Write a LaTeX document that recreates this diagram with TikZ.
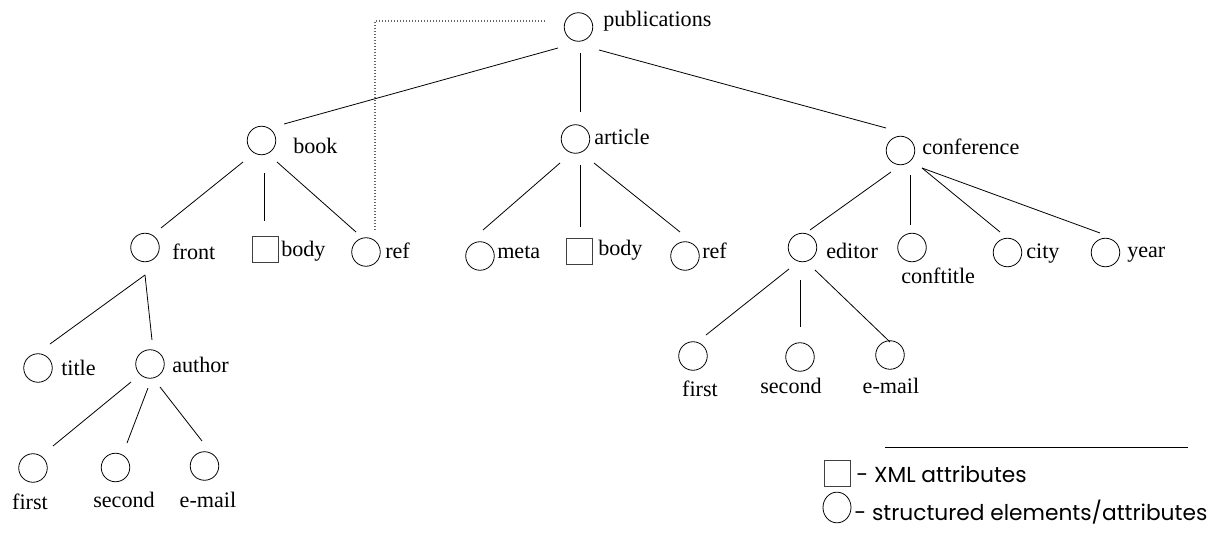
\documentclass[tikz,border=0pt]{standalone}
\usepackage{fontspec}
\setmainfont{Liberation Serif}
\newfontfamily\legendfont{Poppins}
\usetikzlibrary{calc,shapes.geometric}

\tikzset{
  elem/.style={draw, circle, minimum size=21.4pt, inner sep=0pt, line width=0.6pt},
  attr/.style={draw=black!75, rectangle, minimum size=19.5pt, inner sep=0pt, line width=0.6pt},
  lbl/.style={anchor=base west, inner sep=0pt, font=\fontsize{16.6}{20}\selectfont},
  lblc/.style={anchor=base, inner sep=0pt, font=\fontsize{16.6}{20}\selectfont},
  leg/.style={anchor=base west, inner sep=0pt, font=\legendfont\fontsize{16.3}{19}\selectfont},
  legelem/.style={draw, ellipse, minimum width=21pt, minimum height=23pt, inner sep=0pt, line width=0.6pt},
  edge/.style={line width=0.6pt},
  refline/.style={draw=black!60, line width=0.8pt, dash pattern=on 0.75pt off 1.5pt}
}

\begin{document}
\begin{tikzpicture}[x=0.75pt, y=-0.75pt]
\useasboundingbox (0,0) rectangle (1229,535);

% --- element and attribute nodes ---
\node[elem] (pub) at (578.5,27) {};
\node[elem] (book) at (261.5,140.5) {};
\node[elem] (article) at (575.5,139) {};
\node[elem] (conf) at (900.5,150.5) {};

\node[elem] (front) at (145,247.5) {};
\node[attr] (bbody) at (265,249.5) {};
\node[elem] (bref) at (366,252) {};

\node[elem] (meta) at (480,256) {};
\node[attr] (abody) at (579,251.5) {};
\node[elem] (aref) at (685,256) {};

\node[elem] (editor) at (802.5,247.5) {};
\node[elem] (conftitle) at (912,247.5) {};
\node[elem] (city) at (1007.5,252.5) {};
\node[elem] (year) at (1105.5,252.5) {};

\node[elem] (title) at (38,368) {};
\node[elem] (author) at (150,364) {};

\node[elem] (afirst) at (33,468) {};
\node[elem] (asecond) at (115.5,467.5) {};
\node[elem] (aemail) at (204.5,466) {};

\node[elem] (efirst) at (693,356) {};
\node[elem] (esecond) at (800,357) {};
\node[elem] (eemail) at (890,355) {};

% --- labels ---
\node[lbl] (tpub) at (603,27) {publications};
\node[lbl] (tbook) at (293,153) {book};
\node[lbl] (tarticle) at (594,145) {article};
\node[lbl] (tconf) at (922,155) {conference};
\node[lbl] (tfront) at (172,259) {front};
\node[lbl] (tbbody) at (281,256) {body};
\node[lbl] (tbref) at (385,258) {ref};
\node[lbl] (tmeta) at (497,258) {meta};
\node[lbl] (tabody) at (598,255) {body};
\node[lbl] (taref) at (702,258) {ref};
\node[lbl] (teditor) at (826,258) {editor};
\node[lbl] (tconftitle) at (901,283) {conftitle};
\node[lbl] (tcity) at (1026,258) {city};
\node[lbl] (tyear) at (1127,257) {year};
\node[lbl] (ttitle) at (61,375) {title};
\node[lbl] (tauthor) at (172,372) {author};
\node[lblc] (tafirst) at (30,509) {first};
\node[lblc] (tasecond) at (124,507) {second};
\node[lblc] (taemail) at (208,507) {e-mail};
\node[lblc] (tefirst) at (700,396) {first};
\node[lblc] (tesecond) at (791,393) {second};
\node[lblc] (teemail) at (891,393) {e-mail};

% --- tree edges ---
\draw[edge] ($(pub)+(-20.5,21)$) -- ($(book)+(22.5,-16.5)$);
\draw[edge] ($(pub)+(1.5,26)$) -- ($(article)+(4.5,-27)$);
\draw[edge] ($(pub)+(20.5,23)$) -- ($(conf)+(-14.5,-22.5)$);

\draw[edge] ($(book)+(-18.5,21.5)$) -- ($(front)+(16,-19.5)$);
\draw[edge] ($(book)+(2.5,32.5)$) -- ($(bbody)+(-1,-28.5)$);
\draw[edge] ($(book)+(15.5,21.5)$) -- ($(bref)+(-10,-20)$);

\draw[edge] ($(article)+(-15.5,24)$) -- ($(meta)+(3,-26)$);
\draw[edge] ($(article)+(4.5,26)$) -- ($(abody)+(1,-24.5)$);
\draw[edge] ($(article)+(18.5,24)$) -- ($(aref)+(-5,-24)$);

\draw[edge] ($(conf)+(-9.5,21.5)$) -- ($(editor)+(7.5,-17.5)$);
\draw[edge] ($(conf)+(9.5,24.5)$) -- ($(conftitle)+(-2,-22.5)$);
\draw[edge] ($(conf)+(21.5,17.5)$) -- ($(city)+(-7.5,-20.5)$);
\draw[edge] ($(conf)+(21.5,17.5)$) -- ($(year)+(-5.5,-19.5)$);

\draw[edge] ($(front)+(0,27.5)$) -- ($(title)+(12,-24)$);
\draw[edge] ($(front)+(0,27.5)$) -- ($(author)+(2,-24)$);

\draw[edge] ($(author)+(-19,18)$) -- ($(afirst)+(20,-22)$);
\draw[edge] ($(author)+(-2,24)$) -- ($(asecond)+(11.5,-24.5)$);
\draw[edge] ($(author)+(10,23)$) -- ($(aemail)+(-2.5,-25)$);

\draw[edge] ($(editor)+(-13.5,21.5)$) -- ($(efirst)+(13,-21)$);
\draw[edge] ($(editor)+(-2.5,32.5)$) -- ($(esecond)+(0,-30)$);
\draw[edge] ($(editor)+(12.5,22.5)$) -- ($(eemail)+(0,-13)$);

% --- dotted reference link from book/ref back to publications ---
\draw[refline] ($(bref)+(9,-22)$) |- ($(pub)+(-31.5,-6)$);

% --- legend ---
\draw[edge] (885,447) -- (1188,447);
\node[attr] (legsq) at (837.5,473) {};
\node[legelem] (legci) at (837,507.5) {};
\node[leg] (legsqt) at (856,482) {- XML attributes};
\node[leg] (legcit) at (854,520) {- structured elements/attributes};
\end{tikzpicture}
\end{document}
